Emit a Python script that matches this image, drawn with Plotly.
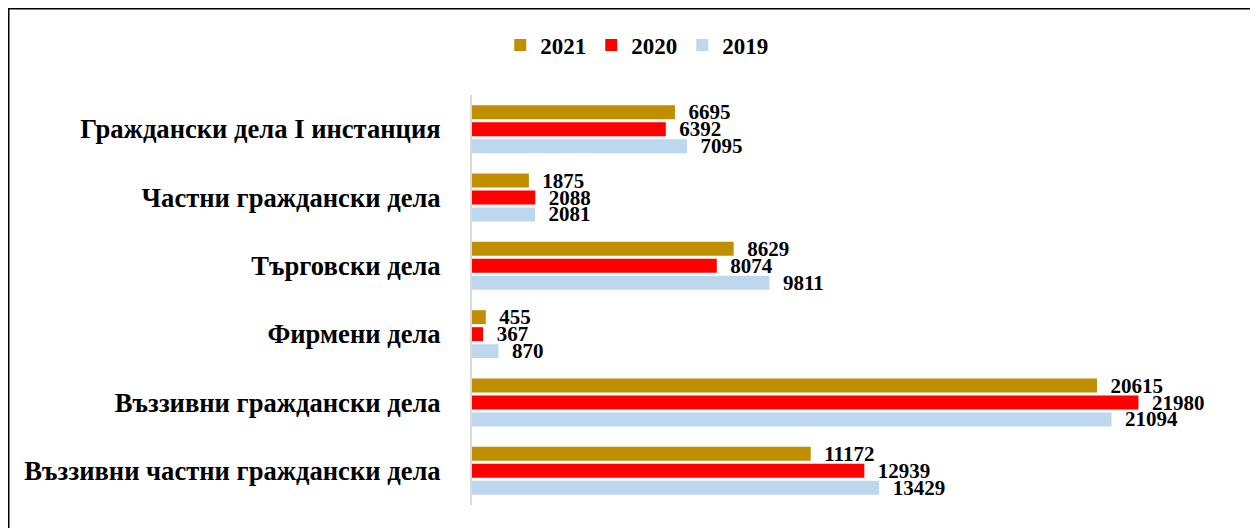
import plotly.graph_objects as go

categories = [
    "Граждански дела I инстанция",
    "Частни граждански дела",
    "Търговски дела",
    "Фирмени дела",
    "Въззивни граждански дела",
    "Въззивни частни граждански дела",
]
years = ["2021", "2020", "2019"]
values_2021 = [6695, 1875, 8629, 455, 20615, 11172]
values_2020 = [6392, 2088, 8074, 367, 21980, 12939]
values_2019 = [7095, 2081, 9811, 870, 21094, 13429]
series = [values_2021, values_2020, values_2019]
colors = ["#BF8F00", "#FF0000", "#BDD7EE"]

# page body has an 8px margin, so the figure is 8px smaller than the window
W, H = 1250, 520
ML, MR, MT, MB = 464, 28, 87, 23
PW, PH = W - ML - MR, H - MT - MB

def px_x(p):
    return (p - ML) / PW

def px_y(p):
    return (H - MB - p) / PH

FONT = "Liberation Serif, Times New Roman, serif"

fig = go.Figure()
for name, vals, col in zip(years, series, colors):
    fig.add_trace(go.Bar(
        y=categories, x=vals, name=name, orientation="h",
        marker=dict(color=col, line=dict(width=0)),
        text=["\u00a0\u00a0" + str(v) for v in vals],
        textposition="outside", cliponaxis=False, constraintext="none",
        textfont=dict(family=FONT, size=21, color="black", weight="bold"),
        hoverinfo="x+name",
    ))

fig.update_layout(
    width=W, height=H,
    margin=dict(l=ML, r=MR, t=MT, b=MB),
    plot_bgcolor="white", paper_bgcolor="white",
    barmode="group", bargap=0.254, bargroupgap=0.18,
    font=dict(family=FONT, color="black"),
    legend=dict(
        orientation="h", xref="container", yref="container",
        x=0.503, y=1 - 37 / H, xanchor="center", yanchor="middle",
        font=dict(family=FONT, size=23, color="black", weight="bold"),
        itemwidth=30, traceorder="normal",
    ),
    xaxis=dict(range=[0, 25000], showgrid=False, zeroline=False,
               showticklabels=False, showline=False, ticks=""),
    yaxis=dict(autorange="reversed", showgrid=False, zeroline=False,
               showline=True, linecolor="#D9D9D9", linewidth=2, ticks="",
               ticklabelstandoff=24,
               tickfont=dict(family=FONT, size=26.6, color="black", weight="bold")),
    shapes=[dict(type="rect", xref="paper", yref="paper",
                 x0=px_x(0), x1=px_x(W + 10), y0=px_y(0), y1=px_y(H + 20),
                 line=dict(color="black", width=3), fillcolor="rgba(0,0,0,0)",
                 layer="above")],
)

fig.write_html("out.html")
